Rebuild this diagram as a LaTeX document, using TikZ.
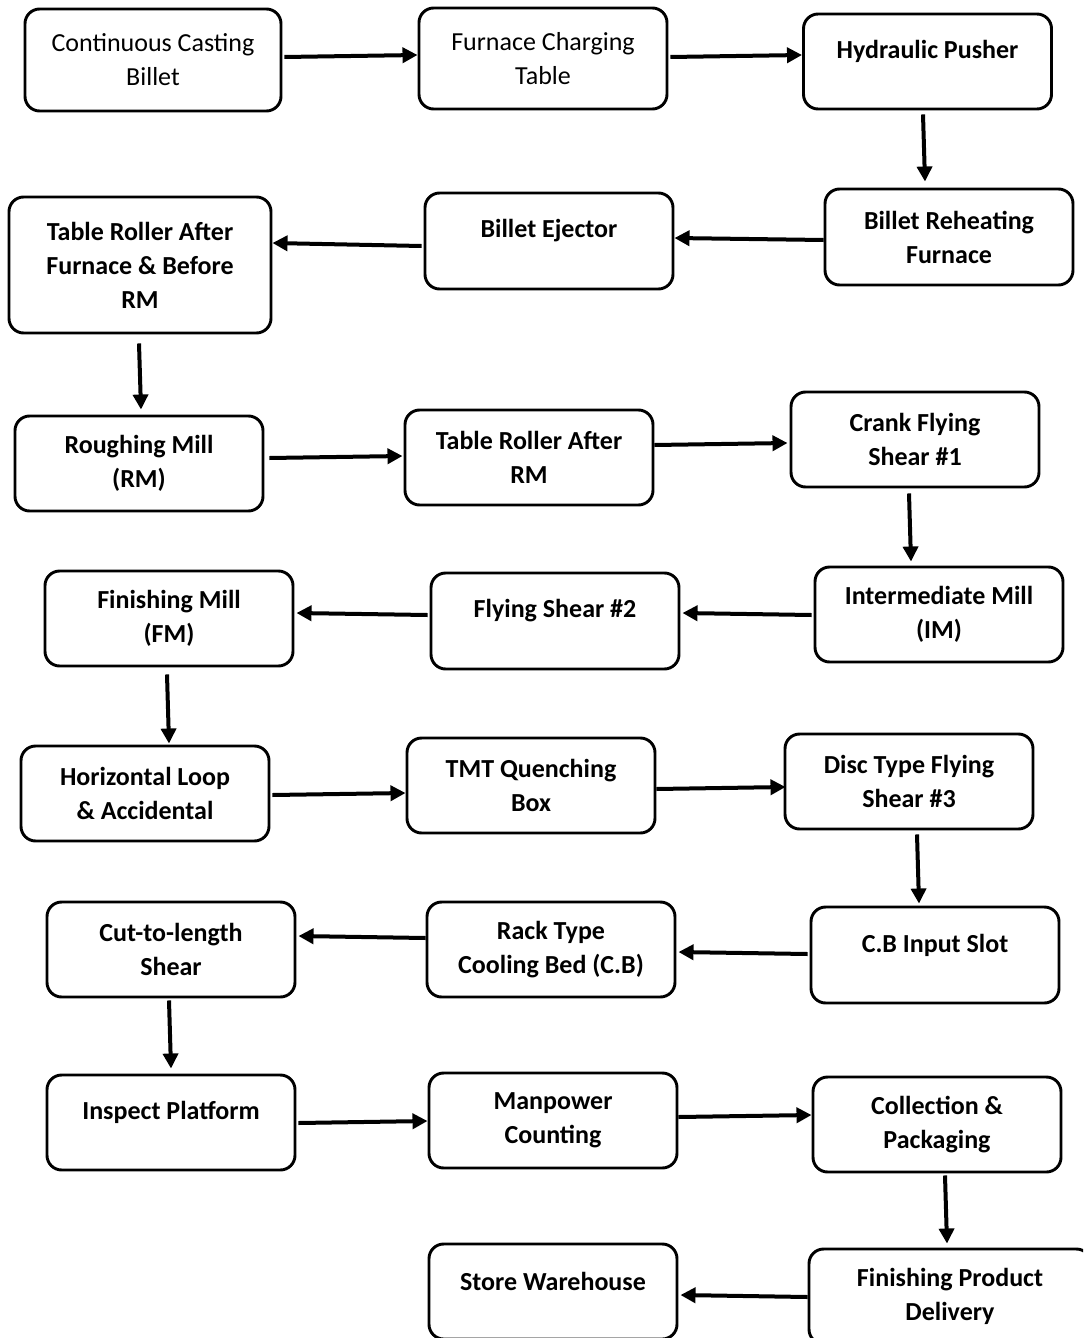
\documentclass[tikz,border=0pt]{standalone}
\usepackage{fontspec}
\setmainfont{Carlito}
\usetikzlibrary{arrows.meta,calc}
% single-line labels sit higher in their boxes
\newcommand\topline[1]{\raisebox{7.5pt}[\height][\depth]{#1}}
\tikzset{
  box/.style={draw, fill=white, line width=2.2pt, rounded corners=11pt, align=center,
    minimum width=186pt, minimum height=71.25pt, inner sep=0pt,
    font=\fontsize{19.5}{25.5}\selectfont\bfseries},
  plain/.style={font=\fontsize{19.5}{25.5}\selectfont},
  flow/.style={-{Triangle[length=11.25pt,width=11.25pt]}, line width=3pt}
}
\begin{document}
\begin{tikzpicture}[x=0.75pt,y=-0.75pt]
\useasboundingbox (0,0) rectangle (1083,1338);
\fill[white] (0,0) rectangle (1083,1338);
\clip (0,0) rectangle (1083,1338);

% row 1
\node[box,plain,minimum width=192pt,minimum height=76.5pt] (A) at (153,60) {Continuous Casting\\Billet};
\node[box,plain,minimum height=75.75pt] (B) at (543,58.5) {Furnace Charging\\Table};
\node[box] (C) at (927.5,61.5) {\topline{Hydraulic Pusher}};
% row 2
\node[box,minimum height=72pt] (D) at (949,237) {Billet Reheating\\Furnace};
\node[box,minimum height=72pt] (E) at (549,241) {\topline{Billet Ejector}};
\node[box,minimum width=196.5pt,minimum height=102pt] (F) at (140,265) {Table Roller After\\Furnace \& Before\\RM};
% row 3
\node[box] (G) at (139,463.5) {Roughing Mill\\(RM)};
\node[box] (H) at (529,457.5) {Table Roller After\\RM};
\node[box] (I) at (915,439.5) {Crank Flying\\Shear \#1};
% row 4
\node[box] (J) at (939,614.5) {Intermediate Mill\\(IM)};
\node[box,minimum height=72pt] (K) at (555,621) {\topline{Flying Shear \#2}};
\node[box] (L) at (169,618.5) {Finishing Mill\\(FM)};
% row 5
\node[box] (M) at (145,793.5) {Horizontal Loop\\\& Accidental};
\node[box] (N) at (531,785.5) {TMT Quenching\\Box};
\node[box] (O) at (909,781.5) {Disc Type Flying\\Shear \#3};
% row 6
\node[box,minimum height=72pt] (P) at (935,955) {\topline{C.B Input Slot}};
\node[box] (Q) at (551,949.5) {Rack Type\\Cooling Bed (C.B)};
\node[box] (R) at (171,949.5) {Cut-to-length\\Shear};
% row 7
\node[box] (S) at (171,1122.5) {\topline{Inspect Platform}};
\node[box] (T) at (553,1120.5) {Manpower\\Counting};
\node[box] (U) at (937,1124.5) {Collection \&\\Packaging};
% row 8
\node[box,minimum width=211.5pt] (V) at (950,1296.5) {Finishing Product\\Delivery};
\node[box] (W) at (553,1291.5) {\topline{Store Warehouse}};

% connectors
\draw[flow] ($(A.east)+(2,-3)$) -- ($(B.west)+(0,-3.5)$);
\draw[flow] ($(B.east)+(2,-1.5)$) -- ($(C.west)+(0,-6.5)$);
\draw[flow] ($(C.south)+(-4.5,4)$) -- ($(D.north)+(-24,-6)$);
\draw[flow] ($(D.west)+(0,3)$) -- ($(E.east)+(0,-3)$);
\draw[flow] ($(E.west)+(-2,5)$) -- ($(F.east)+(0,-22)$);
\draw[flow] ($(F.south)+(-1,9)$) -- ($(G.north)+(2,-5)$);
\draw[flow] ($(G.east)+(5,-5.5)$) -- ($(H.west)+(-1,-1.5)$);
\draw[flow] ($(H.east)+(0,-12.5)$) -- ($(I.west)+(-2,3.5)$);
\draw[flow] ($(I.south)+(-6,5)$) -- ($(J.north)+(-28,-4)$);
\draw[flow] ($(J.west)+(-2,0.5)$) -- ($(K.east)+(2,-8)$);
\draw[flow] ($(K.west)+(-2,-6)$) -- ($(L.east)+(2,-5.5)$);
\draw[flow] ($(L.south)+(-2,7)$) -- ($(M.north)+(24,-1)$);
\draw[flow] ($(M.east)+(2,1.5)$) -- ($(N.west)+(0,7.5)$);
\draw[flow] ($(N.east)+(0,3.5)$) -- ($(O.west)+(2,5.5)$);
\draw[flow] ($(O.south)+(8,4)$) -- ($(P.north)+(-16,-2)$);
\draw[flow] ($(P.west)+(-2,-1)$) -- ($(Q.east)+(2,2.5)$);
\draw[flow] ($(Q.west)+(0,-11.5)$) -- ($(R.east)+(2,-13.5)$);
\draw[flow] ($(R.south)+(-2,2)$) -- ($(S.north)+(0,-5)$);
\draw[flow] ($(S.east)+(2,0.5)$) -- ($(T.west)+(0,0.5)$);
\draw[flow] ($(T.east)+(0,-3.5)$) -- ($(U.west)+(0,-9.5)$);
\draw[flow] ($(U.south)+(8,2)$) -- ($(V.north)+(-3,-4)$);
\draw[flow] ($(V.west)+(0,0.5)$) -- ($(W.east)+(2,3.5)$);
\end{tikzpicture}
\end{document}
